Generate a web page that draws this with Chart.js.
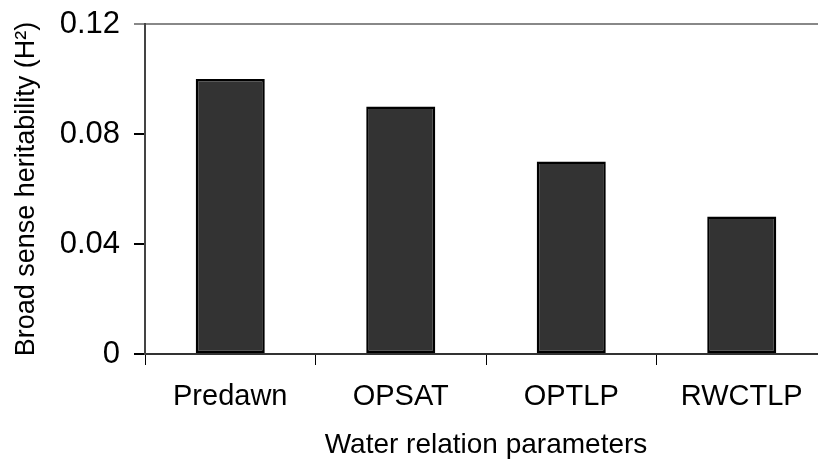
<!DOCTYPE html>
<html>
<head>
<meta charset="utf-8">
<script src="https://cdn.jsdelivr.net/npm/chart.js@4/dist/chart.umd.min.js"></script>
<style>
	html, body { margin: 0; padding: 0; overflow: hidden; background: #fff; }
	#wrap { width: 827px; height: 463px; }
</style>
</head>
<body>
<div id="wrap"><canvas id="myChart"></canvas></div>
<script>
var categories = ['Predawn', 'OPSAT', 'OPTLP', 'RWCTLP'];
var heritability = [0.10, 0.09, 0.07, 0.05];
var yTicks = [0, 0.04, 0.08, 0.12];

var font = "'Liberation Sans', Arial, sans-serif";

var myChart = new Chart(document.getElementById("myChart"), {
	type: 'bar',
	data: {
		labels: categories,
		datasets: [{
			label: "Broad sense heritability",
			data: heritability,
			backgroundColor: '#333333',
			borderColor: '#000000',
			borderWidth: 2.5,
			borderSkipped: false,
			barPercentage: 0.405,
			categoryPercentage: 1
		}]
	},
	options: {
		responsive: true,
		maintainAspectRatio: false,
		animation: false,
		layout: {
			padding: { top: 24, left: 0, right: 0, bottom: 0 }
		},
		plugins: {
			legend: { display: false },
			tooltip: { enabled: false }
		},
		scales: {
			x: {
				afterFit: function(scale) { scale.height = 109 },
				grid: {
					drawOnChartArea: false,
					color: '#000',
					tickLength: 11,
					lineWidth: 1
				},
				border: { color: '#333', width: 2 },
				ticks: {
					color: '#000',
					padding: 15,
					maxRotation: 0,
					font: { family: font, size: 29 }
				},
				title: {
					display: true,
					text: 'Water relation parameters',
					color: '#000',
					padding: { top: 0, bottom: 1 },
					font: { family: font, size: 28 }
				}
			},
			y: {
				min: 0,
				max: 0.12,
				afterFit: function(scale) {
					scale.width = 145
					// let the 0.12 label hang over the top padding
					scale.paddingTop = 0
					scale.paddingBottom = 0
				},
				afterBuildTicks: function(scale) {
					scale.ticks = yTicks.map(function(v) { return { value: v } })
				},
				grid: {
					color: (context) => (context.tick && context.tick.value === 0.12) ? '#888' : 'rgba(0,0,0,0)',
					tickColor: (context) => (context.tick && context.tick.value === 0.12) ? '#888' : '#000',
					lineWidth: 2,
					tickLength: 11
				},
				border: { color: '#444', width: 2 },
				ticks: {
					color: '#000',
					padding: 14,
					font: { family: font, size: 31 },
					callback: function(value) { return String(value) }
				},
				title: {
					display: true,
					text: 'Broad sense heritability (H²)',
					color: '#000',
					padding: { top: 10, bottom: 0 },
					font: { family: font, size: 27 }
				}
			}
		}
	}
});
</script>
</body>
</html>
